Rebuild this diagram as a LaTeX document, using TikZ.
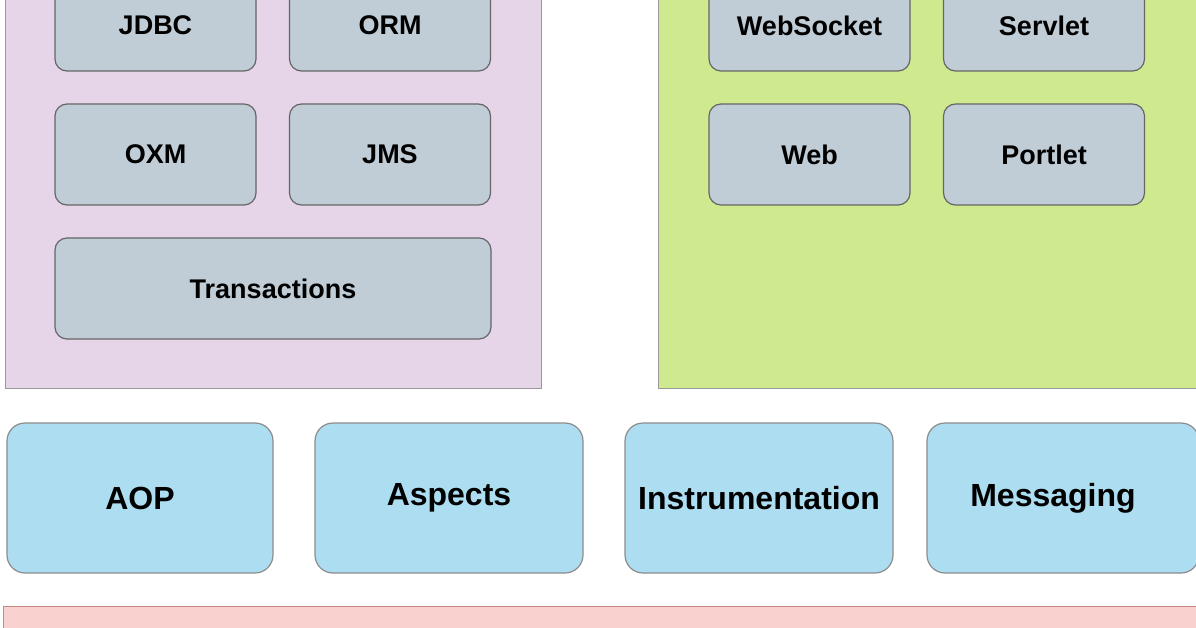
\documentclass[tikz,border=0pt]{standalone}
\usepackage{fontspec}
\setmainfont{Liberation Sans}
\definecolor{panelpink}{HTML}{E6D4E8}
\definecolor{panelgreen}{HTML}{CFE98F}
\definecolor{modgray}{HTML}{C0CCD6}
\definecolor{modblue}{HTML}{ADDDF1}
\definecolor{corepink}{HTML}{F9D2D0}
\tikzset{
  Panel/.style={rectangle, draw=gray!80, line width=1.2pt, anchor=north west, inner sep=0},
  Module/.style={rectangle, rounded corners=12, draw=black!60, line width=1.2pt, fill=modgray, font=\bfseries\fontsize{27}{30}\selectfont, text centered},
  Layer/.style={rectangle, rounded corners=18, draw=black!45, line width=1.2pt, fill=modblue, font=\bfseries\fontsize{32}{36}\selectfont, text centered}
}
\begin{document}
\begin{tikzpicture}[x=1pt, y=-1pt]
    \useasboundingbox (0,0) rectangle (1196,628);
    \fill[white] (0,0) rectangle (1196,628);
    \path
    (5,-10) node[Panel, fill=panelpink, minimum width=536, minimum height=398] (data) {}
    (658,-10) node[Panel, fill=panelgreen, minimum width=545, minimum height=398] (web) {};
    \path
    (155.5,25.5) node[Module, minimum width=201, minimum height=91] (jdbc) {JDBC}
    (390,25.5) node[Module, minimum width=201, minimum height=91] (orm) {ORM}
    (155.5,154.5) node[Module, minimum width=201, minimum height=101] (oxm) {OXM}
    (390,154.5) node[Module, minimum width=201, minimum height=101] (jms) {JMS}
    (273,288.5) node[Module, minimum width=436, minimum height=101] (tx) {Transactions};
    \path
    (809.5,25.5) node[Module, minimum width=201, minimum height=91] (socket) {WebSocket}
    (1044,25.5) node[Module, minimum width=201, minimum height=91] (servlet) {Servlet}
    (809.5,154.5) node[Module, minimum width=201, minimum height=101] (webm) {Web}
    (1044,154.5) node[Module, minimum width=201, minimum height=101] (portlet) {Portlet};
    \path
    (140,498) node[Layer, minimum width=266, minimum height=150] (aop) {AOP}
    (449,498) node[Layer, minimum width=268, minimum height=150] (aspects) {Aspects}
    (759,498) node[Layer, minimum width=268, minimum height=150] (instr) {Instrumentation}
    (1063,498) node[Layer, minimum width=272, minimum height=150, text width=250] (msg) {\hspace*{-20pt}Messaging};
    \path (3,606) node[Panel, fill=corepink, draw=red!35!gray!70, minimum width=1200, minimum height=40] (core) {};
\end{tikzpicture}
\end{document}
